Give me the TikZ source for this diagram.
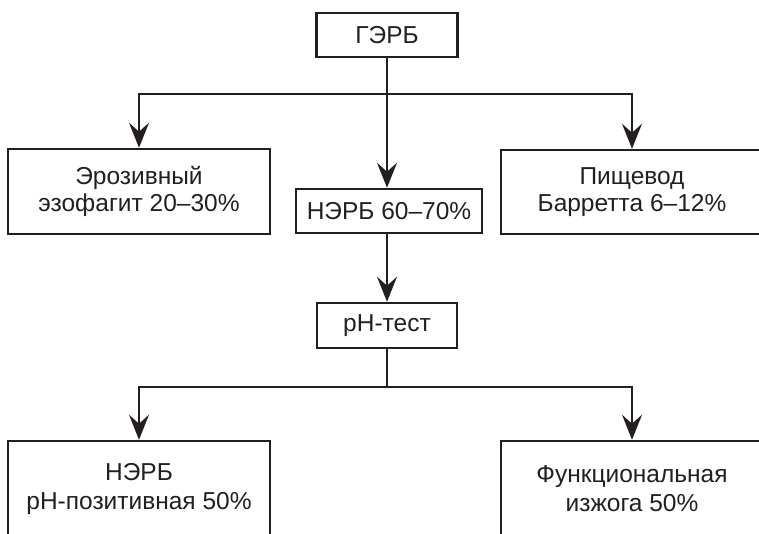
\documentclass[tikz,border=0pt]{standalone}
\usepackage{fontspec}
\setmainfont{Liberation Sans}
\usetikzlibrary{arrows.meta,calc}
\definecolor{ink}{HTML}{231F20}
\begin{document}
\begin{tikzpicture}[x=1pt,y=-1pt,
  box/.style={draw=ink, line width=2.5pt, align=center, text=ink, inner sep=0pt,
              font=\fontsize{24.5pt}{27.5pt}\selectfont},
  arr/.style={draw=ink, line width=2.5pt, line join=miter,
              -{Stealth[length=25pt,width=20pt,inset=9pt]}},
  ln/.style={draw=ink, line width=2.5pt}]
\useasboundingbox (0,0) rectangle (759,533);
\clip (0,0) rectangle (759,533);
\node[box, minimum width=141pt, minimum height=44pt] (gerb) at (387,35) {ГЭРБ};
\node[box, minimum width=262pt, minimum height=85pt] (ero) at (139,191.5) {Эрозивный\\эзофагит 20–30\%};
\node[box, minimum width=262pt, minimum height=84pt] (barr) at (632,192) {Пищевод\\Барретта 6–12\%};
\node[box, minimum width=186pt, minimum height=44pt] (nerb) at (389,211) {НЭРБ 60–70\%};
\node[box, minimum width=140pt, minimum height=45pt] (ph) at (387,325.5) {pH-тест};
\node[box, minimum width=262pt, minimum height=95pt, font=\fontsize{24.5pt}{29pt}\selectfont] (pos) at (139,488.5) {НЭРБ\\pH-позитивная 50\%};
\node[box, minimum width=262pt, minimum height=95pt, font=\fontsize{24.5pt}{29pt}\selectfont] (func) at (632,488.5) {Функциональная\\изжога 50\%};
\coordinate (j1) at (387,94);
\coordinate (j2) at (387,387);
\draw[arr] (gerb.south) -- (gerb.south |- nerb.north);
\draw[arr] (j1) -| (ero.north);
\draw[arr] (j1) -| (barr.north);
\draw[arr] (ph.north |- nerb.south) -- (ph.north);
\draw[ln] (ph.south) -- (j2);
\draw[arr] (j2) -| (pos.north);
\draw[arr] (j2) -| (func.north);
\end{tikzpicture}
\end{document}
